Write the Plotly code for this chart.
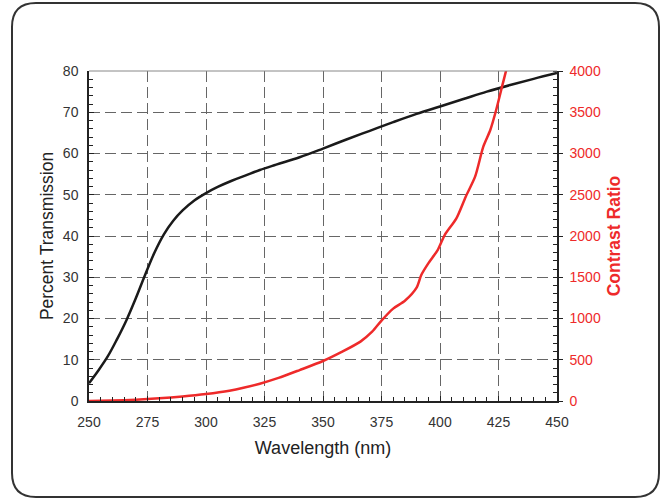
import plotly.graph_objects as go

# Percent transmission (black, left axis)
wl_T = [250, 254, 258, 262, 266, 270, 274, 278, 282, 286, 290, 295, 300, 305, 311,
        317, 323, 330, 340, 350, 360, 370, 380, 390, 400, 410, 420, 430, 440, 450]
T = [4.3, 7.4, 10.8, 15.0, 19.6, 24.9, 30.6, 36.0, 40.4, 43.7, 46.2, 48.6, 50.4, 51.9, 53.4,
     54.7, 56.0, 57.3, 59.1, 61.2, 63.4, 65.5, 67.6, 69.6, 71.4, 73.2, 75.0, 76.6, 78.1, 79.5]

# Contrast ratio (red, right axis)
wl_CR = [250, 260, 270, 280, 290, 300, 310, 316, 323, 331, 340, 350, 358, 366, 371, 375,
         380, 385, 390, 392, 395, 399, 402, 407, 411, 415, 418.5, 421.5, 424, 426.5, 428.2, 429]
CR = [0, 5, 15, 32, 55, 85, 125, 160, 210, 280, 375, 485, 595, 720, 840, 975,
      1120, 1215, 1374, 1527, 1668, 1830, 2012, 2214, 2477, 2719, 3083, 3285, 3527, 3810, 4000, 4100]

x_ticks = [250, 275, 300, 325, 350, 375, 400, 425, 450]
y_ticks = [0, 10, 20, 30, 40, 50, 60, 70, 80]
y2_ticks = [0, 500, 1000, 1500, 2000, 2500, 3000, 3500, 4000]

RED = "#ee2a2a"
FONT = "Liberation Sans, Arial, sans-serif"

fig = go.Figure()
fig.add_trace(go.Scatter(x=wl_T, y=T, mode="lines", yaxis="y",
                         line=dict(color="#1a1a1a", width=2.5, shape="spline", smoothing=1.0),
                         showlegend=False, hoverinfo="skip"))
fig.add_trace(go.Scatter(x=wl_CR, y=CR, mode="lines", yaxis="y2",
                         line=dict(color=RED, width=2.5, shape="spline", smoothing=0.7),
                         showlegend=False, hoverinfo="skip"))

W, H = 661, 499
L, R, TOP, B = 89, 104, 71, 98
pw, ph = W - L - R, H - TOP - B

def px(x):
    return (x - L) / pw

def py(y):
    return (H - B - y) / ph

# rounded outer frame
x0, x1, y0, y1 = px(12), px(659), py(497), py(3)
rx, ry = 24 / pw, 24 / ph
path = (f"M {x0+rx},{y1} L {x1-rx},{y1} Q {x1},{y1} {x1},{y1-ry} "
        f"L {x1},{y0+ry} Q {x1},{y0} {x1-rx},{y0} L {x0+rx},{y0} "
        f"Q {x0},{y0} {x0},{y0+ry} L {x0},{y1-ry} Q {x0},{y1} {x0+rx},{y1} Z")

grid = dict(showgrid=True, gridcolor="#666666", gridwidth=1, griddash="11px,5px")

fig.update_layout(
    width=W, height=H,
    margin=dict(l=L, r=R, t=TOP, b=B, autoexpand=False),
    paper_bgcolor="white", plot_bgcolor="white",
    font=dict(family=FONT, size=14, color="#333333"),
    xaxis=dict(range=[250, 450], tickvals=x_ticks, showline=True, linecolor="#222222", linewidth=1.5,
               ticks="inside", ticklen=5, tickcolor="#222222",
               minor=dict(dtick=5, ticks="inside", ticklen=4, tickcolor="#222222", showgrid=False),
               zeroline=False, ticklabelstandoff=7, automargin=False,
               title=dict(text="Wavelength (nm)", font=dict(size=18, color="#222222"), standoff=13),
               **grid),
    yaxis=dict(range=[0, 80], tickvals=y_ticks, showline=True, linecolor="#222222", linewidth=1.5,
               ticks="inside", ticklen=5, tickcolor="#222222",
               minor=dict(dtick=2, ticks="inside", ticklen=4, tickcolor="#222222", showgrid=False),
               zeroline=False, ticklabelstandoff=6, automargin=False,
               title=dict(text="Percent Transmission", font=dict(size=17.5, color="#222222"), standoff=5),
               **grid),
    yaxis2=dict(range=[0, 4000], tickvals=y2_ticks, overlaying="y", side="right", anchor="x",
                showline=True, linecolor="#222222", linewidth=1.5,
                ticks="outside", ticklen=4, tickcolor="#222222",
                minor=dict(dtick=100, ticks="inside", ticklen=4, tickcolor="#222222", showgrid=False),
                showgrid=False, zeroline=False, ticklabelstandoff=4, automargin=False,
                tickfont=dict(color=RED, size=14),
                title=dict(text="<b>Contrast Ratio</b>", font=dict(size=17.5, color=RED), standoff=8)),
    shapes=[
        dict(type="line", xref="paper", yref="paper", x0=0, x1=1, y0=1, y1=1,
             line=dict(color="#888888", width=1)),
        dict(type="path", xref="paper", yref="paper", path=path,
             line=dict(color="#333333", width=2), fillcolor="rgba(0,0,0,0)"),
    ],
)

fig.write_html("out.html", config={"displayModeBar": False},
               post_script="document.body.style.margin='0px';")
